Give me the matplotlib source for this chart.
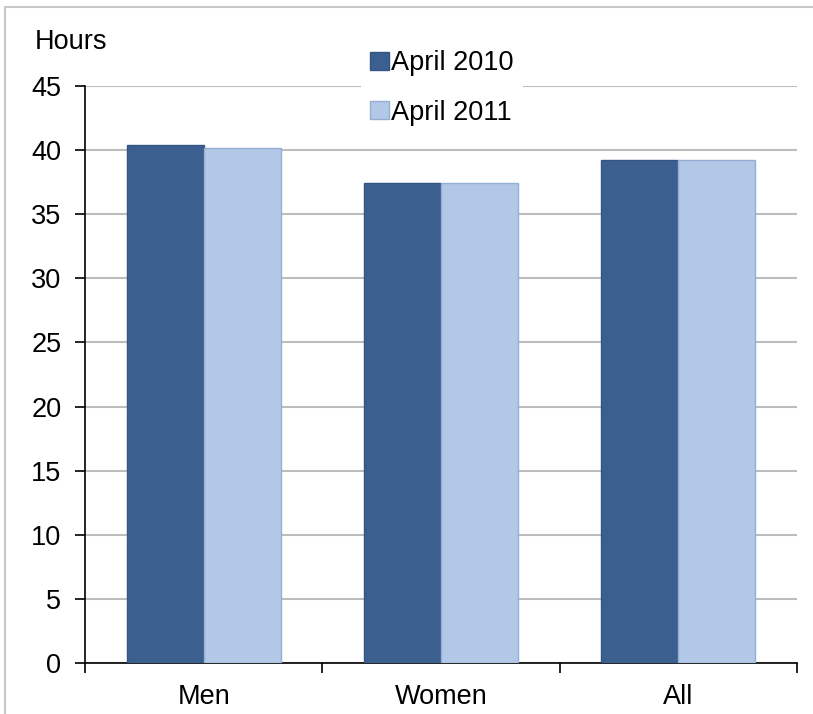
import matplotlib
matplotlib.use("Agg")
import matplotlib.pyplot as plt
import numpy as np
from matplotlib.patches import Patch
from matplotlib.lines import Line2D

categories = ["Men", "Women", "All"]
series_names = ["April 2010", "April 2011"]
april_2010 = [40.4, 37.4, 39.2]
april_2011 = [40.2, 37.4, 39.2]
yticks = [0, 5, 10, 15, 20, 25, 30, 35, 40, 45]

plt.rcParams['font.family'] = ['Liberation Sans', 'DejaVu Sans']
W, H = 813, 714
FS = 19.5
fig = plt.figure(figsize=(W / 100, H / 100), dpi=100)
ax = fig.add_axes([85 / W, 1 - 663 / H, (797 - 85) / W, (663 - 86) / H])

dark = "#3B5F8F"
light = "#B3C8E6"
x = np.arange(len(categories))
bw = 0.325
ax.bar(x - bw / 2, april_2010, bw, color=dark, edgecolor="#345581", linewidth=1, zorder=3)
ax.bar(x + bw / 2, april_2011, bw, color=light, edgecolor="#94AED6", linewidth=1, zorder=3)

ax.set_xlim(-0.5, 2.5)
ax.set_ylim(0, 45)
ax.set_yticks(yticks)
ax.set_yticklabels([str(v) for v in yticks], fontsize=FS)
ax.yaxis.grid(True, color="#BDBDBD", linewidth=1.5, zorder=0)
ax.set_axisbelow(True)

ax.set_xticks([-0.5, 0.5, 1.5, 2.5])
ax.set_xticklabels([])
ax.set_xticks(x, minor=True)
ax.set_xticklabels(categories, minor=True, fontsize=FS)
ax.tick_params(axis="x", which="minor", length=0, pad=15)
ax.tick_params(axis="x", which="major", length=7, width=1.2, direction="out")
ax.tick_params(axis="y", length=7, width=1.2, direction="out", pad=10)

for s in ["top", "right"]:
    ax.spines[s].set_visible(False)
for s in ["left", "bottom"]:
    ax.spines[s].set_linewidth(1.2)
    ax.spines[s].set_color("black")

fig.text(35 / W, 1 - 42 / H, "Hours", fontsize=FS, va="center", ha="left")

handles = [Patch(facecolor=dark, edgecolor="#345581"),
           Patch(facecolor=light, edgecolor="#94AED6")]
leg = ax.legend(handles, series_names, loc="center",
                bbox_to_anchor=(442 / W, 1 - 88 / H), bbox_transform=fig.transFigure,
                fontsize=FS, frameon=True, fancybox=False, framealpha=1,
                facecolor="white", edgecolor="none",
                handlelength=0.68, handleheight=0.68, handletextpad=0.1,
                labelspacing=0.85, borderpad=0.35, borderaxespad=0)
leg.set_zorder(5)

# figure border (top and left visible)
fig.add_artist(Line2D([5 / W, 1], [1 - 7 / H, 1 - 7 / H], transform=fig.transFigure,
                      color="#C8C8C8", linewidth=1.5))
fig.add_artist(Line2D([5 / W, 5 / W], [0, 1 - 7 / H], transform=fig.transFigure,
                      color="#C8C8C8", linewidth=1.5))

fig.savefig("out.png", dpi=100)
